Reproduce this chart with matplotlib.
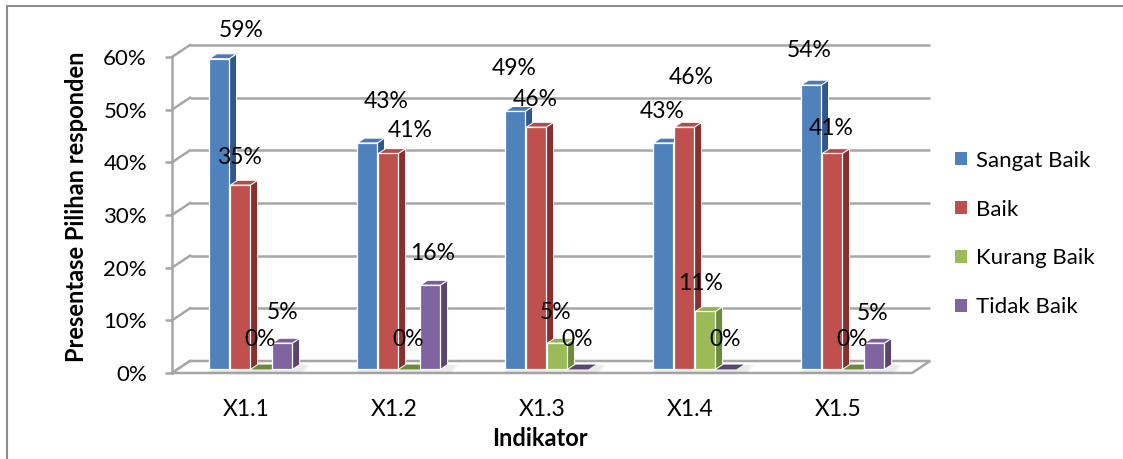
import matplotlib
matplotlib.use("Agg")
import matplotlib.pyplot as plt
from matplotlib.patches import Polygon, Rectangle, Patch

# ---- data -------------------------------------------------------------
categories = ["X1.1", "X1.2", "X1.3", "X1.4", "X1.5"]
series_names = ["Sangat Baik", "Baik", "Kurang Baik", "Tidak Baik"]
sangat_baik = [59, 43, 49, 43, 54]
baik = [35, 41, 46, 46, 41]
kurang_baik = [0, 0, 5, 11, 0]
tidak_baik = [5, 16, 0, 0, 5]
y_ticks = [0, 10, 20, 30, 40, 50, 60]
y_tick_labels = ["0%", "10%", "20%", "30%", "40%", "50%", "60%"]

series_values = [sangat_baik, baik, kurang_baik, tidak_baik]

# ---- style ------------------------------------------------------------
front_colors = ["#4F81BD", "#C0504D", "#9BBB59", "#8064A2"]
side_colors = ["#31588A", "#8A2F2D", "#6B8A3A", "#59466F"]
top_colors = ["#4A7AB4", "#B64A47", "#91B053", "#7A5E9C"]
grid_color = "#A6A6A6"

plt.rcParams["font.family"] = ["Lato", "DejaVu Sans"]

W, H, DPI = 1123, 459, 100
fig = plt.figure(figsize=(W / DPI, H / DPI), dpi=DPI)
fig.patch.set_facecolor("white")

# front plane of the plot box in pixels
left_px, right_px, bottom_px, top_px = 172, 912, 373, 57
ax = fig.add_axes([left_px / W, (H - bottom_px) / H,
                   (right_px - left_px) / W, (bottom_px - top_px) / H])
ax.set_xlim(-0.5, len(categories) - 0.5)
ax.set_ylim(0, 60)
ax.patch.set_alpha(0)

px_x = (right_px - left_px) / len(categories)   # pixels per category
px_y = (bottom_px - top_px) / 60.0               # pixels per percent

# depth of the 3-D box, in data units
depth_dx = 18 / px_x
depth_dy = 12 / px_y

x_lo, x_hi = -0.5, len(categories) - 0.5

# back-wall gridlines and left-wall diagonals
for t in y_ticks:
    ax.plot([x_lo + depth_dx, x_hi + depth_dx], [t + depth_dy, t + depth_dy],
            color=grid_color, lw=1.8, zorder=1, clip_on=False,
            solid_capstyle="butt")
    ax.plot([x_lo, x_lo + depth_dx], [t, t + depth_dy],
            color=grid_color, lw=1.8, zorder=1, clip_on=False)

# floor
floor = Polygon([(x_lo, 0), (x_hi, 0), (x_hi + depth_dx, depth_dy),
                 (x_lo + depth_dx, depth_dy)],
                closed=True, fc="white", ec=grid_color, lw=1.8,
                zorder=1.5, clip_on=False)
ax.add_patch(floor)

# bars
bar_w = 0.135
bar_pitch = 0.142
front_off_x, front_off_y = 0.3 * depth_dx, 0.3 * depth_dy
bdx, bdy = 0.4 * depth_dx, 0.4 * depth_dy

# soft floor shadow under each group of bars
for g in range(len(categories)):
    for k, a in enumerate([0.05, 0.05, 0.05]):
        gx0 = g - 2 * bar_pitch + front_off_x - 0.01 * k
        gx1 = g + 2 * bar_pitch + front_off_x + bdx + 0.01 * k
        ax.add_patch(Polygon([(gx0, 0.15 - 0.15 * k), (gx1, 0.15 - 0.15 * k),
                              (gx1 + bdx, front_off_y + bdy),
                              (gx0 + bdx, front_off_y + bdy)],
                             closed=True, fc="#7F7F7F", alpha=a, ec="none",
                             zorder=1.8, clip_on=False))

# label offsets (pixels) relative to the centre of each bar's top face
base_dx, base_dy = -5, 27
label_nudge = [
    [(23, -1), (0, -2), (0, 0), (2, 1)],
    [(20, 12), (23, -6), (0, 0), (4, 2)],
    [(0, 13), (0, -2), (0, 1), (0, 0)],
    [(0, 2), (8, 20), (-3, -1), (0, 0)],
    [(-1, 5), (0, -4), (0, 0), (0, 0)],
]

z = 3
for g in range(len(categories)):
    for s, vals in enumerate(series_values):
        v = vals[g]
        x0 = g - 2 * bar_pitch + s * bar_pitch + front_off_x
        y0 = front_off_y
        if v > 0:
            ax.add_patch(Polygon([(x0 + bar_w, y0), (x0 + bar_w + bdx, y0 + bdy),
                                  (x0 + bar_w + bdx, y0 + bdy + v), (x0 + bar_w, y0 + v)],
                                 closed=True, fc=side_colors[s], ec="white",
                                 lw=0.7, zorder=z, clip_on=False))
            ax.add_patch(Polygon([(x0, y0 + v), (x0 + bar_w, y0 + v),
                                  (x0 + bar_w + bdx, y0 + v + bdy), (x0 + bdx, y0 + v + bdy)],
                                 closed=True, fc=top_colors[s], ec="white",
                                 lw=0.7, zorder=z, clip_on=False))
            ax.add_patch(Rectangle((x0, y0), bar_w, v, fc=front_colors[s],
                                   ec="white", lw=0.9, zorder=z + 0.1,
                                   clip_on=False))
        else:
            ax.add_patch(Polygon([(x0, y0), (x0 + bar_w, y0),
                                  (x0 + bar_w + bdx, y0 + bdy), (x0 + bdx, y0 + bdy)],
                                 closed=True, fc=side_colors[s], ec="none",
                                 zorder=z, clip_on=False))
        z += 0.2

        ndx, ndy = label_nudge[g][s]
        ax.annotate(f"{v}%", xy=(x0 + bar_w / 2 + bdx / 2, y0 + v + bdy / 2),
                    xytext=(base_dx + ndx, base_dy + ndy),
                    textcoords="offset pixels", ha="center", va="center",
                    fontsize=16.5, color="black", zorder=20,
                    annotation_clip=False)

# axes decorations
for side in ["top", "right", "bottom"]:
    ax.spines[side].set_visible(False)
ax.spines["left"].set_color(grid_color)
ax.spines["left"].set_linewidth(1.8)
ax.spines["left"].set_zorder(2)
ax.set_yticks(y_ticks, y_tick_labels, fontsize=16)
ax.tick_params(axis="y", length=5, width=1.8, color=grid_color, pad=13)
ax.set_xticks(range(len(categories)), categories, fontsize=16.5)
ax.tick_params(axis="x", length=0, pad=18.5)

fig.text(77 / W, 1 - 207 / H, "Presentase Pilihan responden", rotation=90,
         ha="center", va="center", fontsize=17, fontweight="bold")
fig.text(540 / W, 1 - 438 / H, "Indikator", ha="center", va="center",
         fontsize=17, fontweight="bold")

# legend
handles = [Patch(facecolor=c, edgecolor="none") for c in front_colors]
fig.legend(handles, series_names, loc="center left",
           bbox_to_anchor=(935 / W, 1 - 234 / H), frameon=False,
           fontsize=16, handlelength=0.55, handleheight=0.55,
           handletextpad=0.4, labelspacing=1.3)

# outer frame of the chart area
fig.add_artist(Rectangle((7 / W, -0.1), 1.2, (H - 6) / H + 0.1,
                         transform=fig.transFigure, fill=False,
                         ec="#8C8C8C", lw=1.5))

fig.savefig("out.png", dpi=DPI, facecolor="white")
